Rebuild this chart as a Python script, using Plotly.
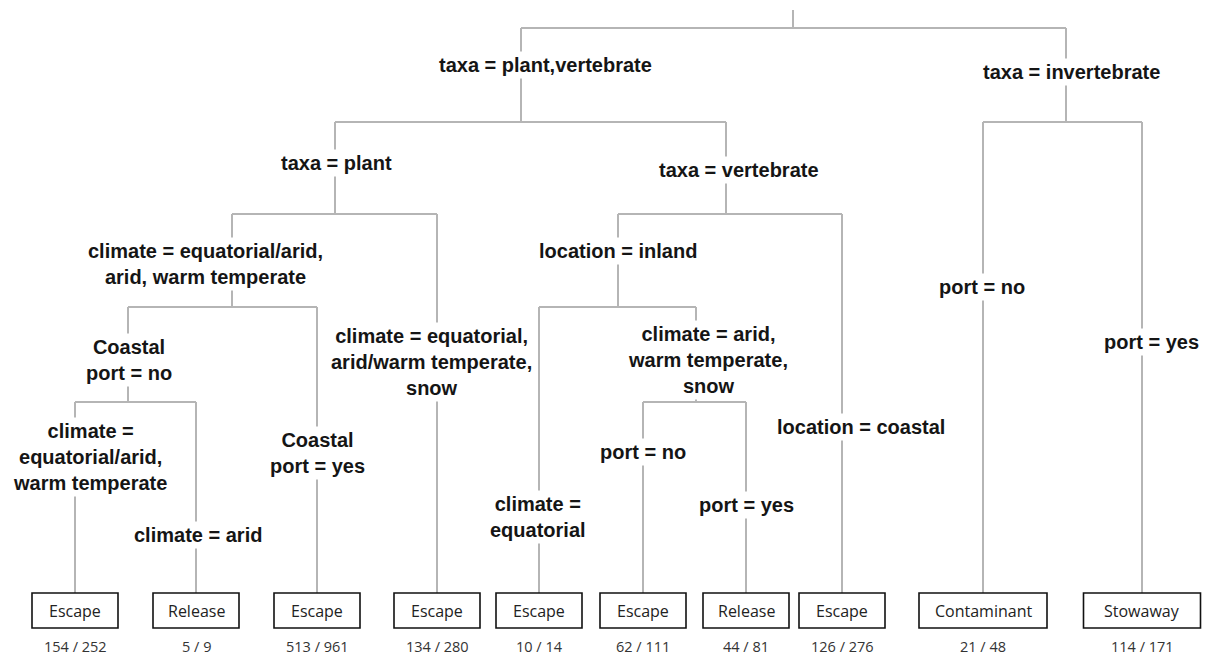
import plotly.graph_objects as go

# ---------------- data ----------------
# tree edges: parent -> child with the split condition written on the branch
edge_parent = ["root", "root", "A", "A", "A1", "A1", "A1a", "A1a", "A1a1", "A1a1",
               "A2", "A2", "A2a", "A2a", "A2a2", "A2a2", "B", "B"]
edge_child = ["A", "B", "A1", "A2", "A1a", "L4", "A1a1", "L3", "L1", "L2",
              "A2a", "L8", "L5", "A2a2", "L6", "L7", "L9", "L10"]
split_labels = [
    "taxa = plant,vertebrate",
    "taxa = invertebrate",
    "taxa = plant",
    "taxa = vertebrate",
    "climate = equatorial/arid,<br>arid, warm temperate",
    "climate = equatorial,<br>arid/warm temperate,<br>snow",
    "Coastal<br>port = no",
    "Coastal<br>port = yes",
    "climate =<br>equatorial/arid,<br>warm temperate",
    "climate = arid",
    "location = inland",
    "location = coastal",
    "climate =<br>equatorial",
    "climate = arid,<br>warm temperate,<br>snow",
    "port = no",
    "port = yes",
    "port = no",
    "port = yes",
]

leaf_ids = ["L1", "L2", "L3", "L4", "L5", "L6", "L7", "L8", "L9", "L10"]
leaf_class = ["Escape", "Release", "Escape", "Escape", "Escape", "Escape",
              "Release", "Escape", "Contaminant", "Stowaway"]
leaf_correct = [154, 5, 513, 134, 10, 62, 44, 126, 21, 114]
leaf_total = [252, 9, 961, 280, 14, 111, 81, 276, 48, 171]

# ---------------- layout (pixel space) ----------------
W, H = 1207, 656
node_x = {"root": 793, "A": 521, "B": 1066, "A1": 335, "A2": 726,
          "A1a": 232, "A1a1": 128, "A2a": 618, "A2a2": 696,
          "L1": 75, "L2": 196, "L3": 317, "L4": 437, "L5": 539,
          "L6": 643, "L7": 746, "L8": 842, "L9": 983, "L10": 1142}
node_bar_y = {"root": 28, "A": 122, "B": 122, "A1": 214, "A2": 214,
              "A1a": 307, "A1a1": 402, "A2a": 307, "A2a2": 402}
root_top = 10
box_top, box_bot = 593, 628
class_y, count_y = 611, 646
box_w = {"Escape": 86, "Release": 86, "Contaminant": 128, "Stowaway": 117}
label_pos = [(545, 65), (1071, 72), (336, 163), (739, 170),
             (205, 264), (431, 362), (129, 360), (317, 453),
             (90, 457), (198, 535), (618, 251), (861, 427),
             (538, 517), (708, 360), (643, 452), (746, 505),
             (982, 287), (1151, 342)]

line_color = "#b5b5b5"

# ---------------- build edges ----------------
xs, ys = [], []
# root stem
xs += [node_x["root"], node_x["root"], None]
ys += [root_top, node_bar_y["root"], None]
# horizontal bars
for p in node_bar_y:
    kids = [c for pp, c in zip(edge_parent, edge_child) if pp == p]
    kx = [node_x[c] for c in kids]
    xs += [min(kx), max(kx), None]
    ys += [node_bar_y[p], node_bar_y[p], None]
# vertical drops
for p, c in zip(edge_parent, edge_child):
    y_end = node_bar_y.get(c, box_top)
    xs += [node_x[c], node_x[c], None]
    ys += [node_bar_y[p], y_end, None]

fig = go.Figure()
fig.add_trace(go.Scatter(x=xs, y=ys, mode="lines",
                         line=dict(color=line_color, width=2),
                         hoverinfo="skip", showlegend=False))

annotations = []
for text, (lx, ly) in zip(split_labels, label_pos):
    annotations.append(dict(
        x=lx, y=ly, xref="x", yref="y", text=text, showarrow=False,
        font=dict(family="Liberation Sans, Arial, sans-serif", size=20,
                  color="#151515", weight="bold"),
        bgcolor="white", borderpad=2, align="center",
        xanchor="center", yanchor="middle"))

shapes = []
for lid, cls, ok, tot in zip(leaf_ids, leaf_class, leaf_correct, leaf_total):
    cx = node_x[lid]
    w = box_w[cls]
    shapes.append(dict(type="rect", xref="x", yref="y",
                       x0=cx - w / 2, x1=cx + w / 2, y0=box_top, y1=box_bot,
                       line=dict(color="#111111", width=1.6),
                       fillcolor="white", layer="above"))
    annotations.append(dict(
        x=cx, y=class_y, xref="x", yref="y", text=cls, showarrow=False,
        font=dict(family="Open Sans, sans-serif", size=16, color="#222222"),
        xanchor="center", yanchor="middle"))
    annotations.append(dict(
        x=cx, y=count_y, xref="x", yref="y", text=f"{ok} / {tot}", showarrow=False,
        font=dict(family="Open Sans, sans-serif", size=14.5, color="#333333"),
        borderpad=0, xanchor="center", yanchor="middle"))

fig.update_layout(
    width=W, height=H,
    margin=dict(l=0, r=0, t=0, b=0),
    paper_bgcolor="white", plot_bgcolor="white",
    xaxis=dict(range=[0, W], visible=False, fixedrange=True),
    yaxis=dict(range=[H, 0], visible=False, fixedrange=True),
    annotations=annotations, shapes=shapes,
    showlegend=False,
)

fig.write_html("out.html", config={"displayModeBar": False},
               post_script="document.body.style.margin='0';document.body.style.overflow='hidden';")
